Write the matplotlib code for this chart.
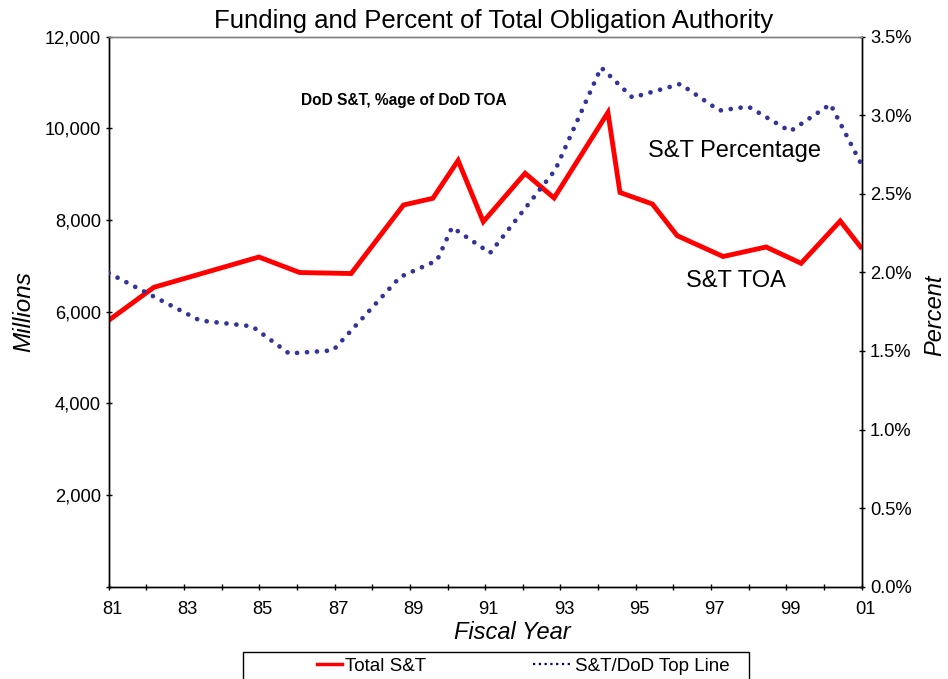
import matplotlib
matplotlib.use("Agg")
import matplotlib.pyplot as plt
import matplotlib.transforms as mtransforms
from matplotlib.lines import Line2D
from matplotlib.patches import Rectangle
from matplotlib.ticker import FuncFormatter, MultipleLocator

plt.rcParams['font.family'] = ['Liberation Sans', 'DejaVu Sans']

# Total S&T funding (millions of dollars) by fiscal year
toa_years = [1981.00, 1982.20, 1984.99, 1986.07, 1987.44, 1988.83, 1989.61,
             1990.28, 1990.95, 1992.06, 1992.83, 1994.26, 1994.58, 1995.44,
             1996.10, 1997.32, 1998.46, 1999.39, 2000.43, 2000.97]
toa_millions = [5812, 6532, 7193, 6855, 6833, 8328, 8474,
                9299, 7964, 9020, 8481, 10346, 8601, 8350,
                7658, 7204, 7412, 7056, 7979, 7412]

# S&T share of DoD total obligation authority (percent)
pct_years = [1981.00, 1983.42, 1984.81, 1985.79, 1986.96, 1988.74, 1989.72,
             1990.12, 1991.13, 1992.86, 1994.08, 1994.91, 1996.18, 1997.22,
             1997.99, 1999.10, 2000.17, 2000.98]
pct_share = [1.996, 1.694, 1.657, 1.484, 1.504, 1.971, 2.076,
             2.287, 2.124, 2.652, 3.304, 3.113, 3.199, 3.030,
             3.055, 2.898, 3.070, 2.693]

millions_ticks = [0, 2000, 4000, 6000, 8000, 10000, 12000]
percent_ticks = [0.0, 0.5, 1.0, 1.5, 2.0, 2.5, 3.0, 3.5]

W, H = 948, 679
fig = plt.figure(figsize=(W / 100, H / 100), dpi=100)


def fx(px):
    return px / W


def fy(py):
    return 1 - py / H


ax = fig.add_axes([fx(108.7), fy(586.7), (861.7 - 108.7) / W, 550 / H])
ax2 = ax.twinx()

ax.plot(toa_years, toa_millions, color='#FF0000', lw=3.5,
        solid_joinstyle='miter', zorder=3)
ax2.plot(pct_years, pct_share, color='#333399', lw=3.4,
         linestyle=(0, (0.01, 2.1)), dash_capstyle='round', zorder=4)

ax.set_xlim(1981, 2001)
ax.set_ylim(0, 12000)
ax2.set_ylim(0, 3.5)

ax.xaxis.set_major_locator(MultipleLocator(1))
ax.xaxis.set_major_formatter(
    FuncFormatter(lambda v, p: f"{int(round(v)) % 100:02d}" if int(round(v)) % 2 == 1 else ""))
ax.set_yticks(millions_ticks)
ax.yaxis.set_major_formatter(FuncFormatter(lambda v, p: "" if v == 0 else f"{int(v):,}"))
ax2.set_yticks(percent_ticks)
ax2.yaxis.set_major_formatter(FuncFormatter(lambda v, p: f"{v:.1f}%"))

ax.tick_params(axis='x', direction='inout', length=5, width=1.0, pad=8, labelsize=13.2)
ax.tick_params(axis='y', direction='inout', length=5, width=1.0, pad=3.0, labelsize=13.2)
ax2.tick_params(axis='y', direction='inout', length=5, width=1.0, pad=3.5, labelsize=13.2)

# nudge the year labels slightly to the right
offset = mtransforms.ScaledTranslation(3.5 / 100, 0, fig.dpi_scale_trans)
for lbl in ax.get_xticklabels():
    lbl.set_transform(lbl.get_transform() + offset)

for a in (ax, ax2):
    a.spines['top'].set_color('#808080')
    a.spines['top'].set_linewidth(1.0)
    for s in ('left', 'right', 'bottom'):
        a.spines[s].set_linewidth(1.0)
        a.spines[s].set_color('black')

# Titles and axis labels
fig.text(fx(494), fy(28), "Funding and Percent of Total Obligation Authority",
         ha='center', va='baseline', fontsize=18.5)
fig.text(fx(24), fy(311.7), "Millions", rotation=90, ha='center', va='center',
         fontsize=17.5, style='italic')
fig.text(fx(935), fy(315), "Percent", rotation=90, ha='center', va='center',
         fontsize=17, style='italic')
fig.text(fx(512), fy(639.3), "Fiscal Year", ha='center', va='baseline',
         fontsize=17, style='italic')

# In-plot annotations
fig.text(fx(403.5), fy(105.5), "DoD S&T, %age of DoD TOA", ha='center',
         va='baseline', fontsize=11.2, fontweight='bold')
fig.text(fx(648), fy(157), "S&T Percentage", ha='left', va='baseline', fontsize=17)
fig.text(fx(686), fy(287.3), "S&T TOA", ha='left', va='baseline', fontsize=17)

# Legend box running off the lower edge, with one entry per series
fig.patches.append(Rectangle((fx(242.7), fy(700)), (749 - 242.7) / W, (700 - 651.7) / H,
                             transform=fig.transFigure, fill=False,
                             edgecolor='black', lw=1.0))
leg_kw = dict(loc='center left', frameon=False, fontsize=13.5,
              handletextpad=0.16, borderpad=0, borderaxespad=0)
fig.legend([Line2D([], [], color='#FF0000', lw=2.5)], ["Total S&T"],
           bbox_to_anchor=(fx(317), fy(666)), handlelength=1.33, **leg_kw)
fig.legend([Line2D([], [], color='#000080', lw=1.6, linestyle=(0, (1, 1.6)))],
           ["S&T/DoD Top Line"],
           bbox_to_anchor=(fx(533), fy(666)), handlelength=2.1, **leg_kw)

fig.savefig("out.png", dpi=100)
